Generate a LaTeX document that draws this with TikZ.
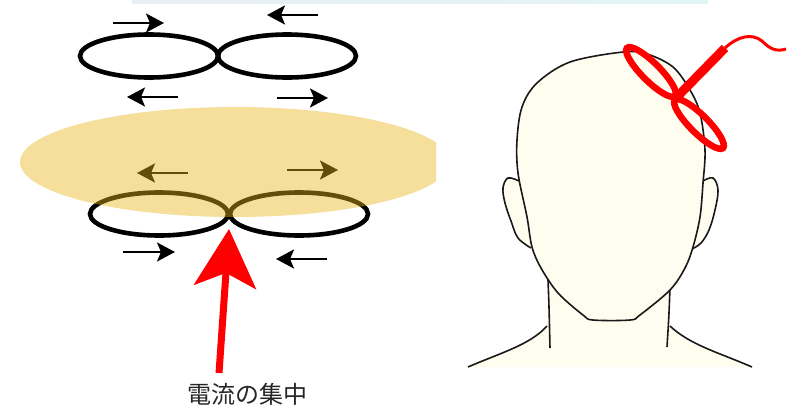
\documentclass[tikz,border=0pt]{standalone}
\usepackage{fontspec}
\newfontfamily\jpfont{Noto Sans CJK JP}
\usetikzlibrary{arrows.meta}

\definecolor{padyellow}{RGB}{233,181,24}
\definecolor{skin}{RGB}{255,252,240}
\definecolor{barleft}{RGB}{232,238,242}
\definecolor{barright}{RGB}{226,245,246}

\begin{document}
\begin{tikzpicture}[x=1pt,y=-1pt,
   loop/.style={line width=4.6pt},
   flow/.style={line width=2.4pt,-{Stealth[length=18pt,width=19pt,inset=4pt]}},
   outline/.style={draw=black!90,line width=1.6pt,fill=skin}]
\useasboundingbox (0,0) rectangle (792,407);

% thin bar along the top
\shade [left color=barleft,right color=barright] (132,0) rectangle (708,3);

% figure-eight coil, upper
\draw [loop] (149,56) ellipse [x radius=69, y radius=21.5];
\draw [loop] (287,56) ellipse [x radius=69, y radius=21.5];
\draw [flow] (113,23)--(164,23);
\draw [flow] (318,15)--(267,15);
\draw [flow] (178,97)--(127,97);
\draw [flow] (277,98)--(328,98);

% figure-eight coil, lower
\draw [loop] (159,214) ellipse [x radius=69, y radius=21.5];
\draw [loop] (299,214) ellipse [x radius=69, y radius=21.5];
\draw [flow] (188,173)--(137,173);
\draw [flow] (287,170)--(338,170);
\draw [flow] (123,252)--(175,252);
\draw [flow] (327,259)--(276,259);

% the pad lying over the coil
\begin{scope}
\clip (0,100) rectangle (436,230);
\fill [padyellow,opacity=0.43] (235,162) ellipse [x radius=215, y radius=55];
\end{scope}

% label and red arrow up to the crossing
\node [font=\jpfont\fontsize{24}{24}\selectfont,text=black!85,inner sep=0pt] (focus) at (247,394) {電流の集中};
\coordinate (cross) at (229,229);
\coordinate (tail) at (219,373);
\draw [red,line width=7pt,-{Stealth[length=58pt,width=62pt,inset=14pt]}] (tail)--(cross);

% neck and shoulders
\fill [skin] (548,278)--(547,326) .. controls (530,345) and (500,353) .. (468,367)
   --(752,367) .. controls (720,353) and (690,345) .. (670,326)--(670,285)--cycle;
\draw [black!90,line width=1.6pt] (548,280) .. controls (549,305) .. (550,348);
\draw [black!90,line width=1.6pt] (670,287) .. controls (669,315) .. (667,347);
\draw [black!90,line width=1.6pt] (547,326) .. controls (530,345) and (500,353) .. (468,367);
\draw [black!90,line width=1.6pt] (670,326) .. controls (690,345) and (720,353) .. (752,367);

% ears
\draw [outline] plot [smooth,tension=0.6] coordinates
   {(519,181) (508,178) (503,188) (505,203) (511,221) (518,238) (531,248)};
\draw [outline] plot [smooth,tension=0.6] coordinates
   {(703,181) (713,178) (718,190) (715,210) (709,230) (701,243) (692,249)};

% head
\draw [outline] plot [smooth cycle,tension=0.55] coordinates
   {(623,52) (647,54) (673,67) (690,90) (700,113) (705,150) (703,183) (700,217)
    (693,247) (685,268) (670,290) (640,315) (630,320) (593,320) (583,315)
    (558,293) (541,268) (532,247) (527,217) (518,173) (517,140) (522,107)
    (537,83) (570,62)};

% coil on the head, with handle and cable
\draw [red,line width=6.5pt,rotate around={-45:(651,72)}] (651,72) ellipse [x radius=34, y radius=9];
\draw [red,line width=6.5pt,rotate around={-45:(699,124)}] (699,124) ellipse [x radius=34, y radius=9];
\draw [red,line width=9pt] (675,99)--(725,48);
\draw [red,line width=3pt] (725,48) .. controls (738,36) and (752,33) .. (762,41)
   .. controls (770,49) and (776,52) .. (786,49);

\end{tikzpicture}
\end{document}
